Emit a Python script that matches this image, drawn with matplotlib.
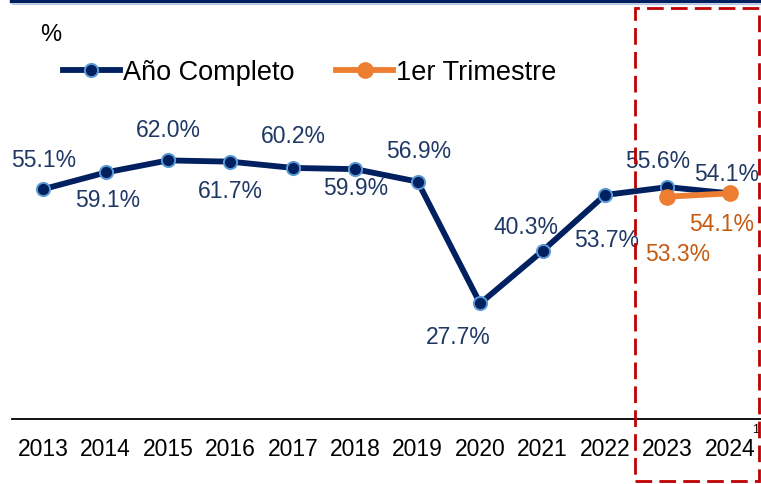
import matplotlib
matplotlib.use("Agg")
import matplotlib.pyplot as plt
from matplotlib.patches import Rectangle
from matplotlib.lines import Line2D

plt.rcParams['font.family'] = ['Liberation Sans', 'DejaVu Sans']

years = ["2013", "2014", "2015", "2016", "2017", "2018", "2019", "2020", "2021", "2022", "2023", "2024"]
anual = [55.1, 59.1, 62.0, 61.7, 60.2, 59.9, 56.9, 27.7, 40.3, 53.7, 55.6, 54.1]
trim_years = ["2023", "2024"]
trimestre = [53.3, 54.1]

navy = "#002060"
navy_txt = "#1F3864"
orange = "#ED7D31"
orange_txt = "#C55A11"

W, H = 761, 485
fig = plt.figure(figsize=(W / 100, H / 100), dpi=100)
ax = fig.add_axes([12 / W, (H - 420) / H, 749 / W, 410 / H])

x = list(range(len(years)))
xt = [years.index(y) for y in trim_years]

ax.plot(x, anual, color=navy, lw=4.2, marker="o", ms=9.5, mfc=navy,
        mec="#5B9BD5", mew=1.4, zorder=3, solid_joinstyle="miter")
ax.plot(xt, trimestre, color=orange, lw=4.2, marker="o", ms=11, mfc=orange,
        mec=orange, zorder=4)

ax.set_xlim(-0.5, len(years) - 0.5)
ax.set_ylim(0, 98.3)
ax.set_yticks([])
ax.set_xticks(x)
ax.set_xticklabels(years, fontsize=16.5)
ax.tick_params(axis="x", length=0, pad=13, colors="black")
for s in ["top", "right", "left"]:
    ax.spines[s].set_visible(False)
ax.spines["bottom"].set_color("black")
ax.spines["bottom"].set_linewidth(1.3)
ax.patch.set_alpha(0)

# label offsets in pixels (dx, dy) from point, dy positive = up
off_anual = [(0, 30), (2, -27), (0, 31), (0, -29), (0, 32), (0, -18),
             (1, 31), (-22, -33), (-17, 24), (2, -44), (-10, 27), (-3, 20)]
for xi, v, (dx, dy) in zip(x, anual, off_anual):
    ax.annotate(f"{v:.1f}%", (xi, v), xytext=(dx, dy), textcoords="offset pixels",
                ha="center", va="center", fontsize=16.5, color=navy_txt, zorder=5)
off_trim = [(10, -57), (-8, -30)]
for xi, v, (dx, dy) in zip(xt, trimestre, off_trim):
    ax.annotate(f"{v:.1f}%", (xi, v), xytext=(dx, dy), textcoords="offset pixels",
                ha="center", va="center", fontsize=16.5, color=orange_txt, zorder=5)

# legend
h1 = Line2D([], [], color=navy, lw=4.2, marker="o", ms=9.5, mfc=navy, mec="#5B9BD5", mew=1.4)
h2 = Line2D([], [], color=orange, lw=4.2, marker="o", ms=11, mfc=orange, mec=orange)
fig.legend([h1, h2], ["Año Completo", "1er Trimestre"], loc="center left",
           bbox_to_anchor=(63 / W, 1 - 73 / H), ncol=2, frameon=False,
           fontsize=19.5, handlelength=2.1, handletextpad=0.1, columnspacing=1.55,
           borderpad=0, borderaxespad=0)

fig.text(40 / W, 1 - 35 / H, "%", fontsize=17, ha="left", va="center", color="black")
fig.text(756 / W, 1 - 430 / H, "1", fontsize=9, ha="center", va="center", color="black")

# top line
fig.add_artist(Line2D([12 / W, 1], [1 - 2 / H, 1 - 2 / H], transform=fig.transFigure,
                      color=navy, lw=3.2))
fig.add_artist(Line2D([12 / W, 1], [1 - 4.5 / H, 1 - 4.5 / H], transform=fig.transFigure,
                      color="#B4C7E7", lw=0.8))

# dashed highlight box
rect = Rectangle((635 / W, 1 - 482 / H), (759 - 635) / W, (482 - 9) / H,
                 transform=fig.transFigure, fill=False, edgecolor="#C00000",
                 lw=2.0, linestyle=(0, (6, 2.6)), zorder=10)
fig.add_artist(rect)

fig.savefig("out.png", dpi=100)
